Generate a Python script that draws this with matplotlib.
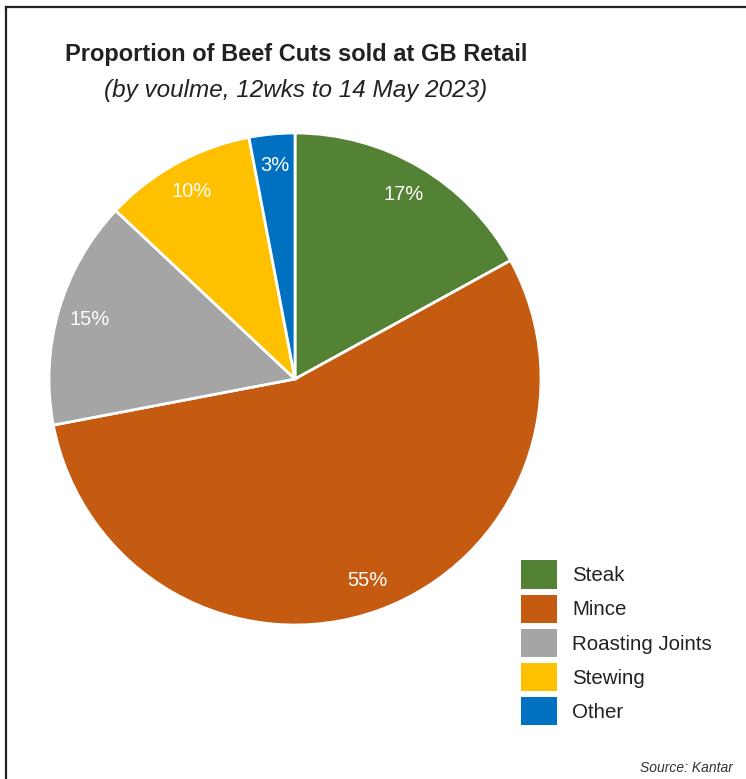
import matplotlib.pyplot as plt
from matplotlib.lines import Line2D
from matplotlib.patches import Patch

cuts = ["Steak", "Mince", "Roasting Joints", "Stewing", "Other"]
shares = [17, 55, 15, 10, 3]
colours = ["#548235", "#C55A11", "#A5A5A5", "#FFC000", "#0070C0"]

W, H = 746, 779
fig = plt.figure(figsize=(W / 100, H / 100), dpi=100)
plt.rcParams["font.family"] = ["Liberation Sans", "DejaVu Sans"]

# frame lines (top and left only)
fig.add_artist(Line2D([6 / W, 1], [1 - 7 / H, 1 - 7 / H], color="#222222", lw=1.6))
fig.add_artist(Line2D([6 / W, 6 / W], [0, 1 - 7 / H], color="#222222", lw=1.6))

cx, cy, r = 295, 379, 246
ax = fig.add_axes([(cx - r) / W, (H - cy - r) / H, 2 * r / W, 2 * r / H])
wedges, texts = ax.pie(
    shares,
    colors=colours,
    startangle=90,
    counterclock=False,
    labels=[f"{v}%" for v in shares],
    labeldistance=0.87,
    wedgeprops=dict(edgecolor="white", linewidth=2),
    textprops=dict(color="white", fontsize=14.5),
)
for t in texts:
    t.set_ha("center")
    t.set_va("center")
ax.set_xlim(-1, 1)
ax.set_ylim(-1, 1)
ax.set_aspect("equal")
ax.axis("off")

fig.text(296 / W, 1 - 55 / H, "Proportion of Beef Cuts sold at GB Retail",
         ha="center", va="center", fontsize=17, fontweight="bold", color="#222222")
fig.text(296 / W, 1 - 91 / H, "(by voulme, 12wks to 14 May 2023)",
         ha="center", va="center", fontsize=17.5, style="italic", color="#222222")

handles = [Patch(facecolor=c, edgecolor="none") for c in colours]
fs = 14.8
fspx = fs * 100 / 72
fig.legend(handles, cuts, loc="upper left",
           bbox_to_anchor=(505 / W, 1 - 544 / H),
           frameon=False, fontsize=fs,
           handlelength=36 / fspx, handleheight=28 / 22 * 28 / fspx,
           labelspacing=6 / fspx, handletextpad=15 / fspx,
           borderpad=0.3, labelcolor="#222222")

fig.text(733 / W, 1 - 768 / H, "Source: Kantar", ha="right", va="center",
         fontsize=10, style="italic", color="#333333")

fig.savefig("out.png", dpi=100)
